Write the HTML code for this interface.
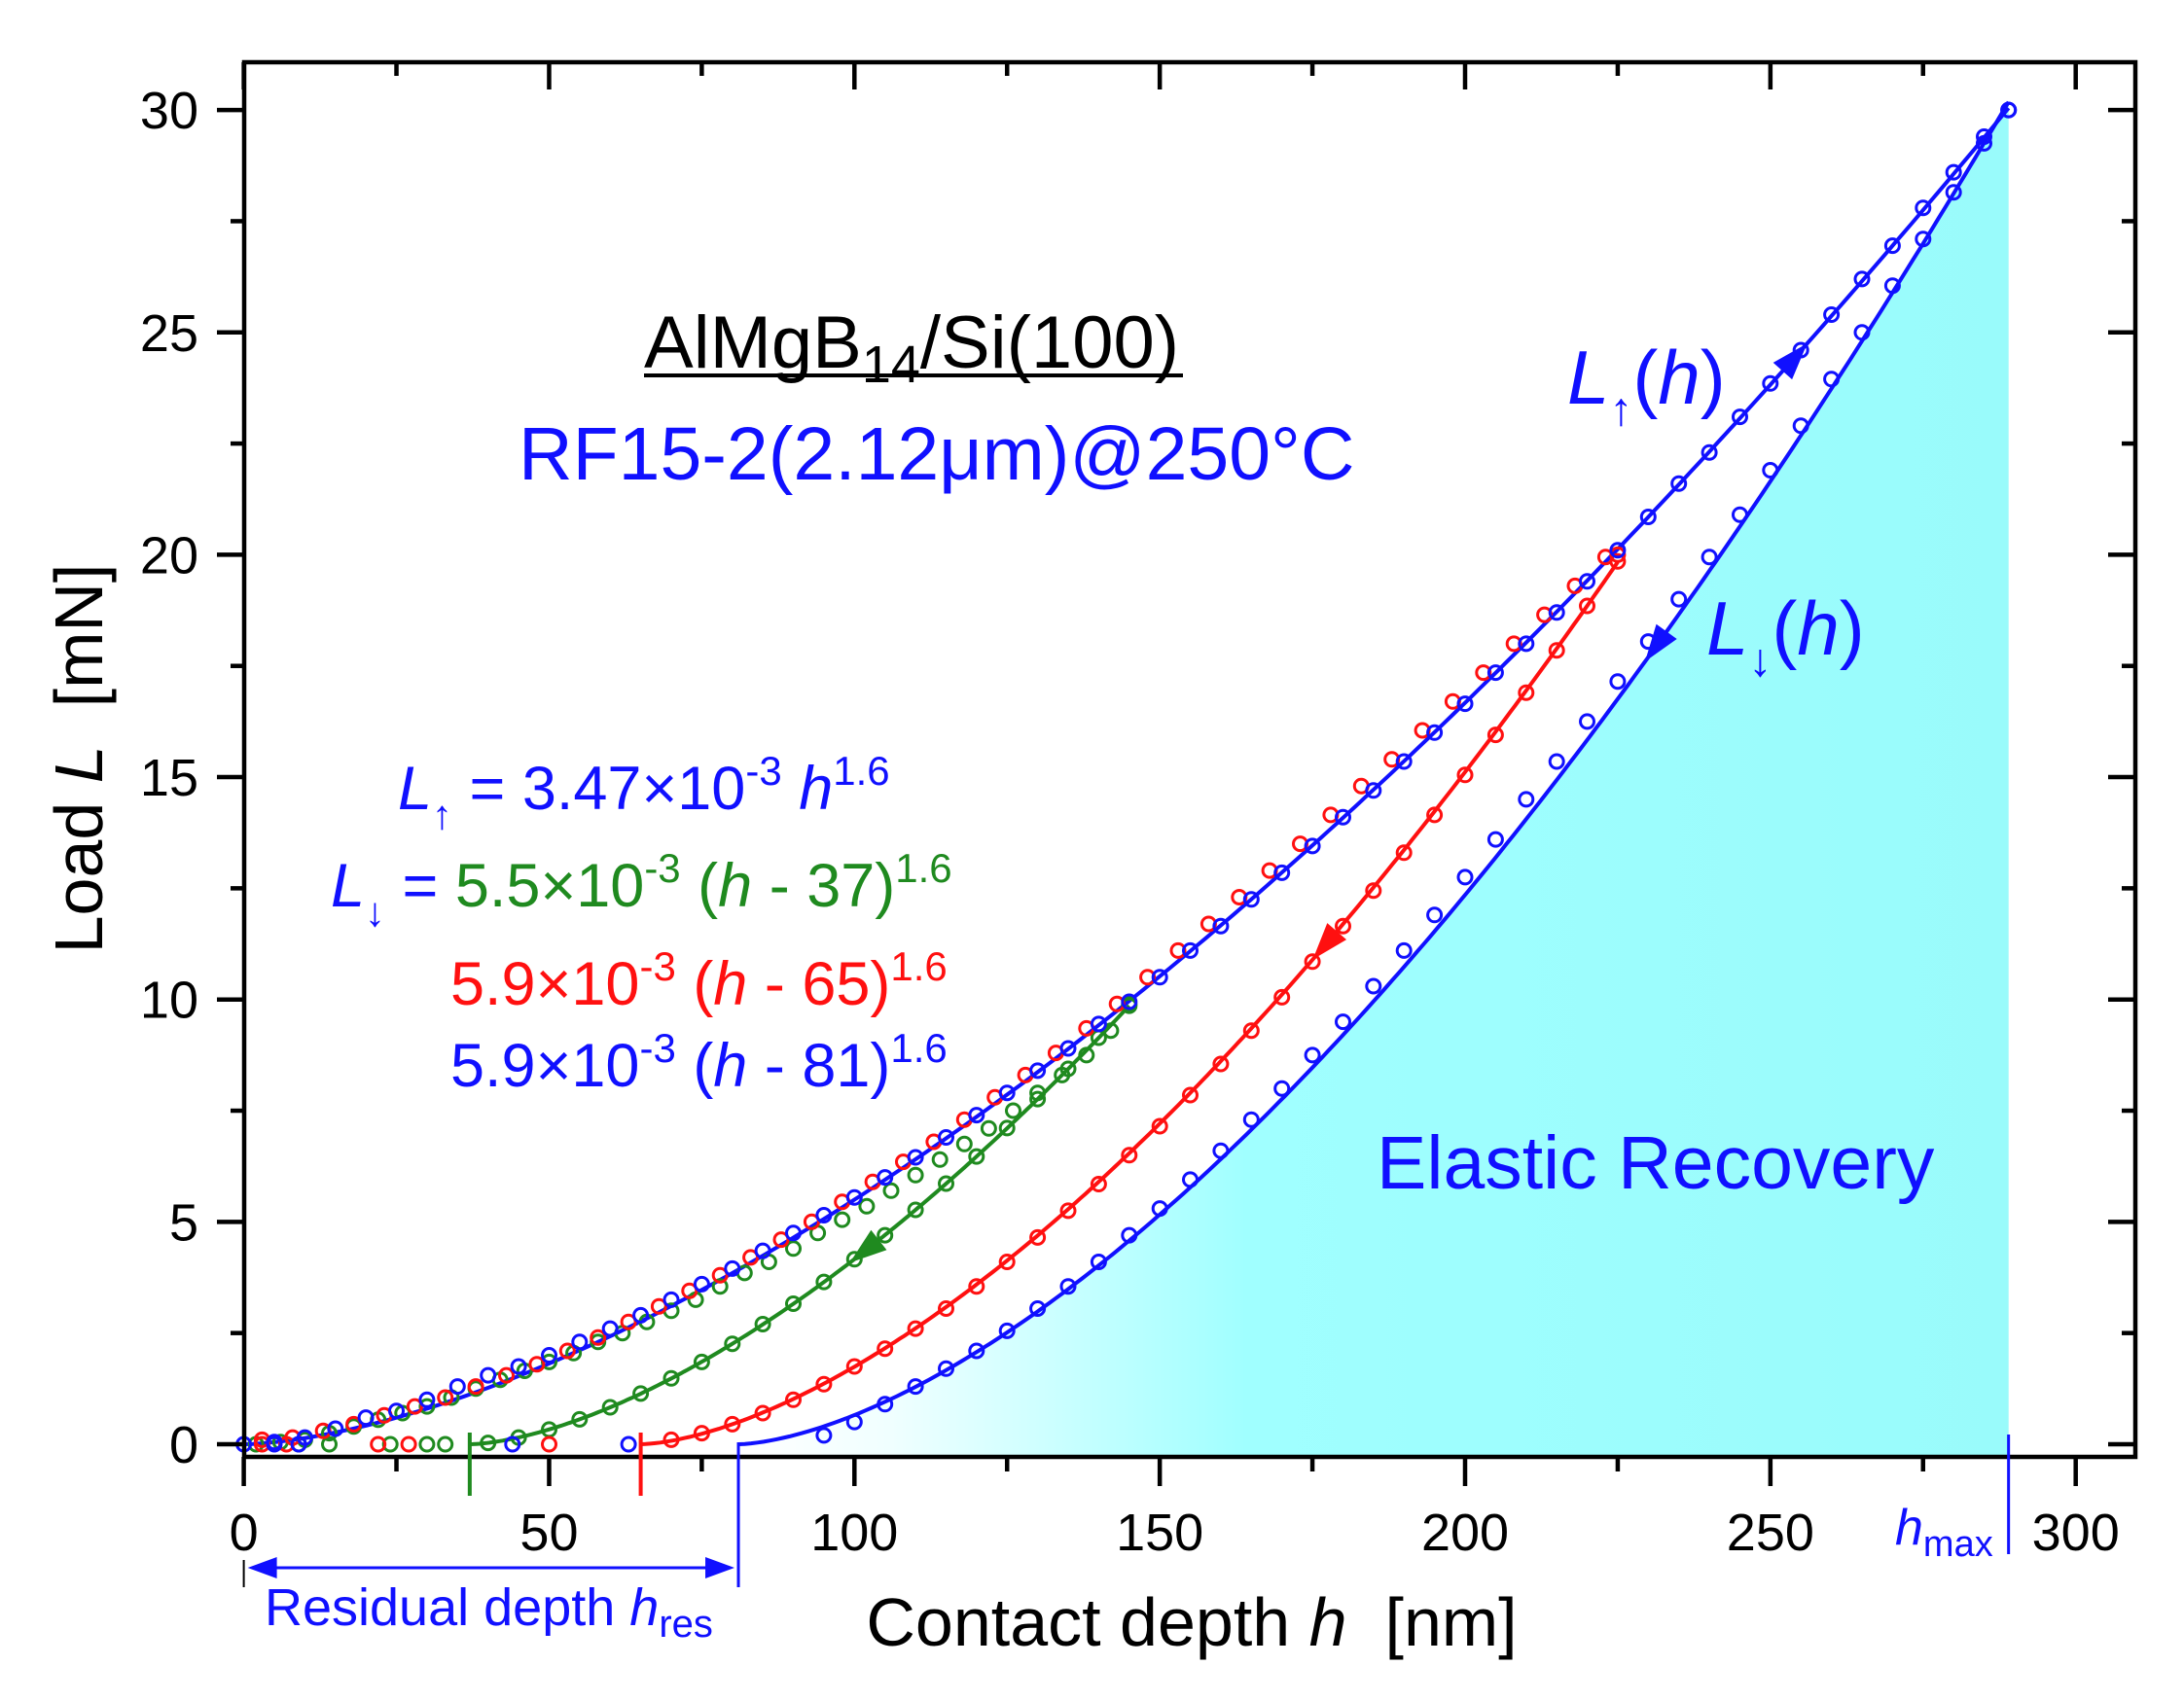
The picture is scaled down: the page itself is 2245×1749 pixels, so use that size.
<!DOCTYPE html>
<html><head><meta charset="utf-8">
<style>
html,body{margin:0;padding:0;background:#fff;}
svg{display:block;font-family:"Liberation Sans",Arial,sans-serif;}
</style></head>
<body>
<svg id="chart" width="2245" height="1749" viewBox="0 0 2245 1749" xmlns="http://www.w3.org/2000/svg">
<defs>
<linearGradient id="cyanGrad" x1="0" x2="1" y1="0" y2="0">
<stop offset="0" stop-color="#ffffff"/>
<stop offset="0.12" stop-color="#f0ffff"/>
<stop offset="0.4" stop-color="#a0ffff"/>
<stop offset="1" stop-color="#99fbfb"/>
</linearGradient>
</defs>
<g id="fills"></g>
<g id="curves"></g>
<g id="markers"></g>
<g id="axes"></g>
<g id="annot"></g>
</svg>
<script>
// ---- data ----
const loadH = [0,5,10,15,20,25,30,35,40,45,50,55,60,65,70,75,80,85,90,95,100,105,110,115,120,125,130,135,140,145,150,155,160,165,170,175,180,185,190,195,200,205,210,215,220,225,230,235,240,245,250,255,260,265,270,275,280,285,289];
const loadL = [0,0.05,0.15,0.35,0.6,0.75,1.0,1.3,1.55,1.75,2.0,2.3,2.6,2.9,3.25,3.6,3.95,4.35,4.75,5.15,5.55,6.0,6.45,6.9,7.4,7.9,8.4,8.9,9.45,9.95,10.5,11.1,11.65,12.25,12.85,13.45,14.1,14.7,15.35,16.0,16.65,17.35,18.0,18.7,19.4,20.1,20.85,21.6,22.3,23.1,23.85,24.6,25.4,26.2,26.95,27.8,28.6,29.4,30.0];
const blueUnH = [95,100,105,110,115,120,125,130,135,140,145,150,155,160,165,170,175,180,185,190,195,200,205,210,215,220,225,230,235,240,245,250,255,260,265,270,275,280,285,289];
const blueUnL = [0.2,0.5,0.9,1.3,1.7,2.1,2.55,3.05,3.55,4.1,4.7,5.3,5.95,6.6,7.3,8.0,8.75,9.5,10.3,11.1,11.9,12.75,13.6,14.5,15.35,16.25,17.15,18.05,19.0,19.95,20.9,21.9,22.9,23.95,25.0,26.05,27.1,28.15,29.25,30.0];
const redLoadH = [3,8,13,18,23,28,33,38,43,48,53,58,63,68,73,78,83,88,93,98,103,108,113,118,123,128,133,138,143,148,153,158,163,168,173,178,183,188,193,198,203,208,213,218,223,225];
const redLoadL = [0.1,0.15,0.3,0.45,0.65,0.85,1.05,1.3,1.55,1.8,2.1,2.4,2.75,3.1,3.45,3.8,4.2,4.6,5.0,5.45,5.9,6.35,6.8,7.3,7.8,8.3,8.8,9.35,9.9,10.5,11.1,11.7,12.3,12.9,13.5,14.15,14.8,15.4,16.05,16.7,17.35,18.0,18.65,19.3,19.95,20.0];
const redUnH = [70,75,80,85,90,95,100,105,110,115,120,125,130,135,140,145,150,155,160,165,170,175,180,185,190,195,200,205,210,215,220,225];
const redUnL = [0.1,0.25,0.45,0.7,1.0,1.35,1.75,2.15,2.6,3.05,3.55,4.1,4.65,5.25,5.85,6.5,7.15,7.85,8.55,9.3,10.05,10.85,11.65,12.45,13.3,14.15,15.05,15.95,16.9,17.85,18.85,19.85];
const greenLoadH = [2,6,10,14,18,22,26,30,34,38,42,46,50,54,58,62,66,70,74,78,82,86,90,94,98,102,106,110,114,118,122,126,130,134,138,142,145];
const greenLoadL = [0.0,0.05,0.1,0.25,0.4,0.55,0.7,0.85,1.05,1.25,1.45,1.65,1.85,2.05,2.3,2.5,2.75,3.0,3.25,3.55,3.85,4.1,4.4,4.75,5.05,5.35,5.7,6.05,6.4,6.75,7.1,7.5,7.9,8.3,8.75,9.3,9.9];
const greenUnH = [40,45,50,55,60,65,70,75,80,85,90,95,100,105,110,115,120,125,130,135,140,145];
const greenUnL = [0.03,0.15,0.33,0.56,0.83,1.14,1.48,1.85,2.26,2.7,3.16,3.65,4.16,4.7,5.27,5.86,6.47,7.11,7.76,8.44,9.14,9.86];
const blueZeroH = [5,9,44,63];
const redZeroH = [3,7,22,27,50];
const greenZeroH = [9,14,24,30,33];
// fit parameters
const fitNames = ["load","green-unload","red-unload","blue-unload"];
const fitCoef = [3.47e-3,5.5e-3,5.9e-3,5.9e-3];
const fitOffset = [0,37,65,81];
const fitExp = [1.6,1.6,1.6,1.6];
const fitStart = [0,37,65,81];
const fitEnd = [289,145,225,289];
const xTicks = [0,50,100,150,200,250,300];
const yTicks = [0,5,10,15,20,25,30];

// ---- scales ----
const X0=250.6, XS=6.277, Y0=1485, YS=45.73;
const fx = h => X0 + h*XS;
const fy = L => Y0 - L*YS;
const NS="http://www.w3.org/2000/svg";
function mk(tag, parent){const e=document.createElementNS(NS,tag);parent.appendChild(e);return e;}
const gF=document.getElementById('fills'),gC=document.getElementById('curves'),gM=document.getElementById('markers'),gA=document.getElementById('axes'),gN=document.getElementById('annot');
const BLUE="#1010ff", RED="#ff1010", GREEN="#1f8a1f";
const fitColor=[BLUE,GREEN,RED,BLUE];
function fitVal(i,h){const d=h-fitOffset[i];return d<=0?0:fitCoef[i]*Math.pow(d,fitExp[i]);}
function fitPath(i){let s="";const n=200;for(let k=0;k<=n;k++){const h=fitStart[i]+(fitEnd[i]-fitStart[i])*k/n;s+=(k?"L":"M")+fx(h).toFixed(1)+","+fy(fitVal(i,h)).toFixed(1);}return s;}

{
 let d=fitPath(3)+"L"+fx(fitEnd[3]).toFixed(1)+","+(Y0+12)+"L"+fx(fitStart[3]).toFixed(1)+","+(Y0+12)+"Z";
 const p=mk('path',gF);
 
 
 p.setAttribute('d',d);p.setAttribute('fill','url(#cyanGrad)');
}
for(let i=0;i<fitNames.length;i++){
 const p=mk('path',gC);
 
 
 p.setAttribute('d',fitPath(i));p.setAttribute('fill','none');
 p.setAttribute('stroke',fitColor[i]);p.setAttribute('stroke-width','4');
}
function drawPts(hs,ls,col,name){
 for(let k=0;k<hs.length;k++){
  const c=mk('circle',gM);
  
  
  c.setAttribute('cx',fx(hs[k]).toFixed(1));c.setAttribute('cy',fy(ls?ls[k]:0).toFixed(1));
  c.setAttribute('r','7');c.setAttribute('fill','none');c.setAttribute('stroke',col);c.setAttribute('stroke-width','3');
 }
}
drawPts(greenLoadH,greenLoadL,GREEN,'green-loading');
drawPts(greenUnH,greenUnL,GREEN,'green-unloading');
drawPts(greenZeroH,null,GREEN,'green-baseline');
drawPts(redLoadH,redLoadL,RED,'red-loading');
drawPts(redUnH,redUnL,RED,'red-unloading');
drawPts(redZeroH,null,RED,'red-baseline');
drawPts(loadH,loadL,BLUE,'blue-loading');
drawPts(blueUnH,blueUnL,BLUE,'blue-unloading');
drawPts(blueZeroH,null,BLUE,'blue-baseline');

function arrow(i,h,dir,col,name){
 const h2=h+dir*4;
 const x1=fx(h),y1=fy(fitVal(i,h)),x2=fx(h2),y2=fy(fitVal(i,h2));
 const a=Math.atan2(y2-y1,x2-x1);const L=38,W=13;
 const bx=x1,by=y1,tx=bx+L*Math.cos(a),ty=by+L*Math.sin(a);
 const px=-Math.sin(a)*W,py=Math.cos(a)*W;
 const p=mk('polygon',gN);
 
 
 p.setAttribute('points',`${tx},${ty} ${bx+px},${by+py} ${bx-px},${by-py}`);
 p.setAttribute('fill',col);
}
arrow(0,252,1,BLUE,'loading-direction-arrow');
arrow(3,233,-1,BLUE,'blue-unloading-arrow');
arrow(2,179,-1,RED,'red-unloading-arrow');
arrow(1,104,-1,GREEN,'green-unloading-arrow');

const L=251,R=2195,T=64,B=1498;
{
 const r=mk('rect',gA);
 
 
 r.setAttribute('x',L);r.setAttribute('y',T);r.setAttribute('width',R-L);r.setAttribute('height',B-T);
 r.setAttribute('fill','none');r.setAttribute('stroke','#000');r.setAttribute('stroke-width','4.5');
}
function line(x1,y1,x2,y2,col,w,name,parent){
 const l=mk('line',parent||gA);
 
 
 l.setAttribute('x1',x1);l.setAttribute('y1',y1);l.setAttribute('x2',x2);l.setAttribute('y2',y2);
 l.setAttribute('stroke',col);l.setAttribute('stroke-width',w);
}
function text(x,y,str,size,anchor,col,name,parent){
 const t=mk('text',parent||gA);
 
 
 t.setAttribute('x',x);t.setAttribute('y',y);t.setAttribute('font-size',size);
 t.setAttribute('text-anchor',anchor);t.setAttribute('fill',col);
 t.textContent=str;return t;
}
for(let v=0;v<=300;v+=25){
 const major=v%50===0,x=fx(v);
 line(x,B,x,B+(major?30:15),'#000',4.5,'x-tick');
 line(x,T,x,T+(major?28:14),'#000',4.5,'x-tick-top');
}
for(let v=0;v<=30;v+=2.5){
 const major=v%5===0,y=fy(v);
 line(L,y,L-(major?28:14),y,'#000',4.5,'y-tick');
 line(R,y,R-(major?28:14),y,'#000',4.5,'y-tick-right');
}
xTicks.forEach(v=>text(fx(v),1594,String(v),54,'middle','#000','x-tick-label'));
yTicks.forEach(v=>text(204,fy(v)+19,String(v),54,'end','#000','y-tick-label'));

function rich(x,y,size,anchor,html,name,col,parent){
 const t=mk('text',parent||gN);
 
 t.setAttribute('x',x);t.setAttribute('y',y);t.setAttribute('font-size',size);t.setAttribute('text-anchor',anchor);
 t.setAttribute('fill',col||'#000');
 t.innerHTML=html;return t;
}
rich(1225,1692,70,'middle','Contact depth <tspan font-style="italic">h</tspan>&#160;&#160;[nm]','x-axis-title','#000',gA);
{
 const y=rich(0,0,70,'middle','Load <tspan font-style="italic">L</tspan>&#160;&#160;[mN]','y-axis-title','#000',gA);
 y.setAttribute('transform','translate(105,780) rotate(-90)');
}

line(fx(37),Y0-12,fx(37),1538,GREEN,4,'green-residual-marker',gN);
line(fx(65),Y0-12,fx(65),1538,RED,4,'red-residual-marker',gN);
line(fx(81),Y0-2,fx(81),1632,BLUE,3,'blue-residual-marker',gN);
line(fx(289),1475,fx(289),1598,BLUE,3,'hmax-marker',gN);
line(fx(0),1604,fx(0),1632,'#000',2,'residual-start-tick',gN);
line(fx(0)+25,1612,fx(81)-25,1612,BLUE,3,'residual-depth-arrow-line',gN);
{
 const p=mk('polygon',gN);
 p.setAttribute('points',`${fx(0)+4},1612 ${fx(0)+34},1601 ${fx(0)+34},1623`);p.setAttribute('fill',BLUE);
 const q=mk('polygon',gN);
 q.setAttribute('points',`${fx(81)-4},1612 ${fx(81)-34},1601 ${fx(81)-34},1623`);q.setAttribute('fill',BLUE);
}
rich(272,1671,54,'start','Residual depth <tspan font-style="italic">h</tspan><tspan font-size="40" dy="12">res</tspan>','residual-depth-label',BLUE);
rich(1948,1588,52,'start','<tspan font-style="italic">h</tspan><tspan font-size="38" dy="12">max</tspan>','hmax-label',BLUE);
rich(662,378,76,'start','AlMgB<tspan font-size="54" dy="15">14</tspan><tspan dy="-15">/Si(100)</tspan>','sample-title','#000');
line(662,386,1216,386,'#000',4,'sample-title-underline',gN);
rich(533,493,77,'start','RF15-2(2.12μm)@250°C','sample-condition',BLUE);
rich(1611,415,78,'start','<tspan font-style="italic">L</tspan><tspan font-size="48" dy="22">↑</tspan><tspan dy="-22">(</tspan><tspan font-style="italic">h</tspan>)','loading-curve-label',BLUE);
rich(1754,673,78,'start','<tspan font-style="italic">L</tspan><tspan font-size="48" dy="22">↓</tspan><tspan dy="-22">(</tspan><tspan font-style="italic">h</tspan>)','unloading-curve-label',BLUE);
rich(409,832,63,'start','<tspan font-style="italic">L</tspan><tspan font-size="42" dy="20">↑</tspan><tspan dy="-20"> = 3.47×10</tspan><tspan font-size="42" dy="-25">-3</tspan><tspan dy="25"> </tspan><tspan font-style="italic">h</tspan><tspan font-size="42" dy="-25">1.6</tspan>','loading-fit-equation',BLUE);
rich(340,932,63,'start','<tspan font-style="italic">L</tspan><tspan font-size="42" dy="20">↓</tspan><tspan dy="-20"> = </tspan><tspan fill="'+GREEN+'">5.5×10<tspan font-size="42" dy="-25">-3</tspan><tspan dy="25"> (</tspan><tspan font-style="italic">h</tspan> - 37)<tspan font-size="42" dy="-25">1.6</tspan></tspan>','green-fit-equation',BLUE);
rich(463,1033,63,'start','5.9×10<tspan font-size="42" dy="-25">-3</tspan><tspan dy="25"> (</tspan><tspan font-style="italic">h</tspan> - 65)<tspan font-size="42" dy="-25">1.6</tspan>','red-fit-equation',RED);
rich(463,1117,63,'start','5.9×10<tspan font-size="42" dy="-25">-3</tspan><tspan dy="25"> (</tspan><tspan font-style="italic">h</tspan> - 81)<tspan font-size="42" dy="-25">1.6</tspan>','blue-fit-equation',BLUE);
rich(1415,1222,77,'start','Elastic Recovery','elastic-recovery-label',BLUE);
</script>
</body></html>
